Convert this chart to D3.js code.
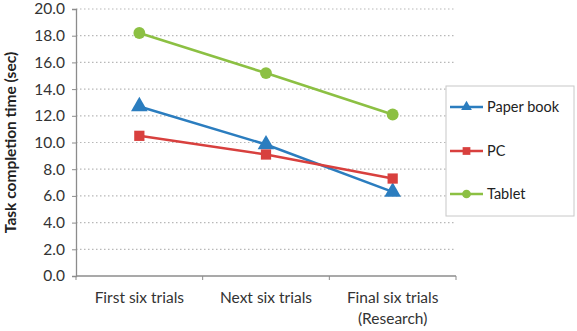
<!DOCTYPE html>
<html><head><meta charset="utf-8">
<script src="https://cdn.jsdelivr.net/npm/d3@7"></script>
<style>body{margin:0;background:#fff}svg{display:block;font-family:Lato,"Open Sans",sans-serif}</style>
</head><body><svg id="c" width="577" height="331"></svg>
<script>
const categories = [["First six trials"], ["Next six trials"], ["Final six trials", "(Research)"]];
const seriesNames = ["Paper book", "PC", "Tablet"];
const paperBook = [12.7, 9.85, 6.3];
const pc = [10.5, 9.1, 7.3];
const tablet = [18.2, 15.2, 12.1];
const yTicks = [0, 2, 4, 6, 8, 10, 12, 14, 16, 18, 20];
const colors = ["#2b7dbf", "#d8403e", "#8cc043"];
const symbols = [d3.symbolTriangle, d3.symbolSquare, d3.symbolCircle];
const series = [paperBook, pc, tablet];

const svg = d3.select("#c");
const x0 = 76, x1 = 456, yTop = 9, yBot = 276;
const x = d3.scaleBand().domain(categories.map((d,i)=>i)).range([x0, x1]);
const y = d3.scaleLinear().domain([0, 20]).range([yBot, yTop]);

// gridlines
svg.append("g").selectAll("line").data(yTicks.filter(t=>t>0)).join("line")
  .attr("x1", x0).attr("x2", x1).attr("y1", d=>y(d)).attr("y2", d=>y(d))
  .attr("stroke", "#b8b8b8").attr("stroke-width", 1.2).attr("stroke-dasharray", "1.5,2.5");

// y axis
const ya = svg.append("g").attr("transform", `translate(${x0},0)`)
  .call(d3.axisLeft(y).tickValues(yTicks).tickFormat(d3.format(".1f")).tickSize(4).tickPadding(7));
ya.select(".domain").attr("stroke", "#8c8c8c").attr("stroke-width", 1.3);
ya.selectAll(".tick line").attr("stroke", "#8c8c8c");
ya.selectAll(".tick text").attr("font-size", 15.5).attr("fill", "#333").attr("font-family", "Lato,sans-serif");

// x axis
const xa = svg.append("g").attr("transform", `translate(0,${yBot})`);
xa.append("line").attr("x1", x0).attr("x2", x1).attr("stroke", "#8c8c8c").attr("stroke-width", 1.3);
xa.selectAll("line.t").data(d3.range(categories.length+1)).join("line").attr("class","t")
  .attr("x1", i=>x0 + i*x.bandwidth()).attr("x2", i=>x0 + i*x.bandwidth()).attr("y1", 0).attr("y2", 4)
  .attr("stroke", "#8c8c8c");
xa.selectAll("text").data(categories).join("text")
  .attr("x", (d,i)=>x(i)+x.bandwidth()/2).attr("y", 27)
  .attr("text-anchor", "middle").attr("font-size", 15.5).attr("fill", "#333")
  .selectAll("tspan").data(d=>d).join("tspan")
  .attr("x", function(){return d3.select(this.parentNode).attr("x");})
  .attr("dy", (d,i)=>i===0?0:21).text(d=>d);

// axis title
svg.append("text").attr("transform", `translate(16,${(yTop+yBot)/2}) rotate(-90)`)
  .attr("text-anchor", "middle").attr("font-size", 15.5).attr("font-weight", "bold").attr("fill", "#222")
  .text("Task completion time (sec)");

// lines
const line = d3.line().x((d,i)=>x(i)+x.bandwidth()/2).y(d=>y(d));
series.forEach((s, k) => {
  svg.append("path").datum(s).attr("d", line).attr("fill", "none")
    .attr("stroke", colors[k]).attr("stroke-width", 2.6);
});
series.forEach((s, k) => {
  svg.append("g").selectAll("path").data(s).join("path")
    .attr("transform", (d,i)=>`translate(${x(i)+x.bandwidth()/2},${y(d)})`)
    .attr("d", d3.symbol().type(symbols[k]).size(k===2?110:(k===0?120:105)))
    .attr("fill", colors[k]);
});

// legend
const lg = svg.append("g");
lg.append("rect").attr("x", 446).attr("y", 86).attr("width", 128).attr("height", 130)
  .attr("fill", "#fff").attr("stroke", "#c8c8c8").attr("stroke-width", 1);
const ly = [107, 151, 194];
seriesNames.forEach((n, k) => {
  lg.append("line").attr("x1", 450).attr("x2", 483).attr("y1", ly[k]).attr("y2", ly[k])
    .attr("stroke", colors[k]).attr("stroke-width", 2.6);
  lg.append("path").attr("transform", `translate(466.5,${ly[k]})`)
    .attr("d", d3.symbol().type(symbols[k]).size(k===0?50:60)).attr("fill", colors[k]);
  lg.append("text").attr("x", 487).attr("y", ly[k]+5).attr("font-size", 14.5).attr("fill", "#222").text(n);
});
</script></body></html>
